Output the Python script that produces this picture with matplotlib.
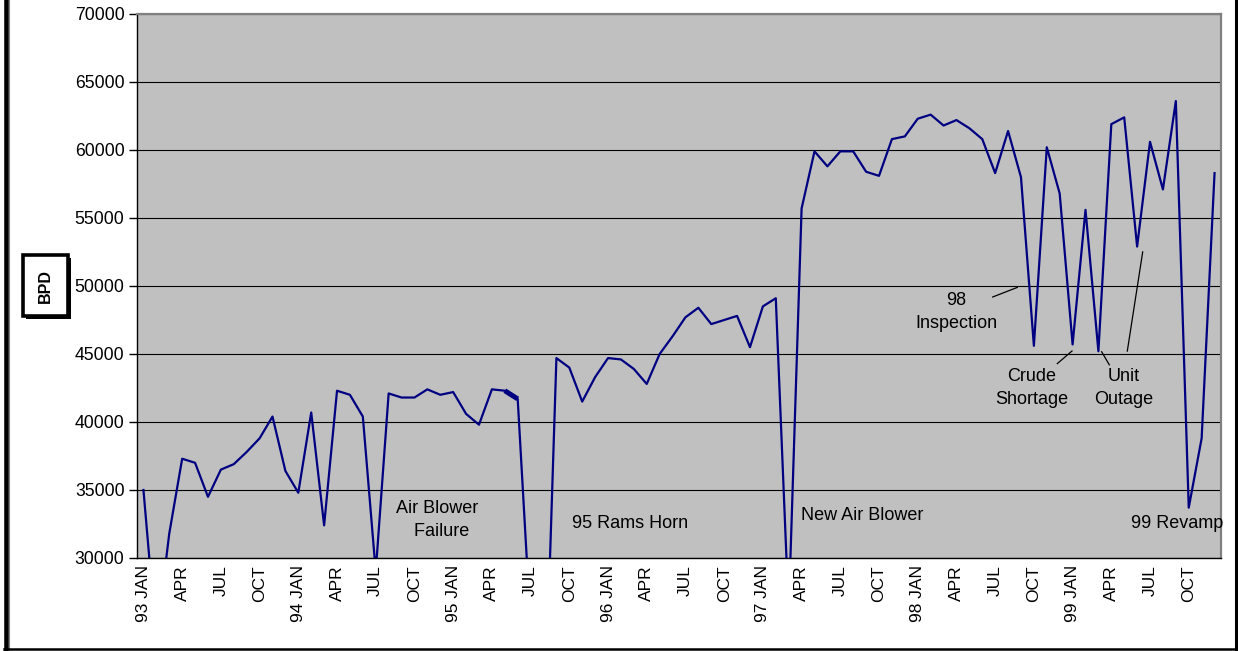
import matplotlib
matplotlib.use("Agg")
import matplotlib.pyplot as plt
from matplotlib.lines import Line2D
from matplotlib.patches import Rectangle

plt.rcParams['font.family'] = ['Liberation Sans', 'DejaVu Sans']

# ---- data -------------------------------------------------------------
bpd = [
    35000, 24000, 31800, 37300, 37000, 34500, 36500, 36900, 37800, 38800, 40400, 36400,  # 1993
    34800, 40700, 32400, 42300, 42000, 40400, 29000, 42100, 41800, 41800, 42400, 42000,  # 1994
    42200, 40600, 39800, 42400, 42300, 41700, 25000, 15000, 44700, 44000, 41500, 43300,  # 1995
    44700, 44600, 43900, 42800, 45000, 46300, 47700, 48400, 47200, 47500, 47800, 45500,  # 1996
    48500, 49100, 26000, 55700, 59900, 58800, 59900, 59900, 58400, 58100, 60800, 61000,  # 1997
    62300, 62600, 61800, 62200, 61600, 60800, 58300, 61400, 58000, 45600, 60200, 56800,  # 1998
    45700, 55600, 45200, 61900, 62400, 52900, 60600, 57100, 63600, 33700, 38800, 58300,  # 1999
]
tick_labels = [
    "93 JAN", "APR", "JUL", "OCT",
    "94 JAN", "APR", "JUL", "OCT",
    "95 JAN", "APR", "JUL", "OCT",
    "96 JAN", "APR", "JUL", "OCT",
    "97 JAN", "APR", "JUL", "OCT",
    "98 JAN", "APR", "JUL", "OCT",
    "99 JAN", "APR", "JUL", "OCT",
]
y_ticks = [30000, 35000, 40000, 45000, 50000, 55000, 60000, 65000, 70000]

W, H = 1238, 651
fig = plt.figure(figsize=(W / 100, H / 100), dpi=100)
fig.patch.set_facecolor("white")

# plot area in pixels
L, R, T, B = 137, 1221, 14, 558
ax = fig.add_axes([L / W, 1 - B / H, (R - L) / W, (B - T) / H])
ax.set_facecolor("#C0C0C0")

x = list(range(len(bpd)))
ax.plot(x, bpd, color="#000080", lw=1.6, zorder=3, clip_on=True)
# thickened segment (May->Jun 1995)
ax.plot(x[28:30], bpd[28:30], color="#000080", lw=3.6, zorder=3, solid_capstyle="butt")

ax.set_xlim(-0.5, len(bpd) - 0.5)
ax.set_ylim(30000, 70000)
ax.set_yticks(y_ticks)
ax.set_yticklabels([str(v) for v in y_ticks], fontsize=12.7)
ax.set_xticks(list(range(0, len(bpd), 3)))
ax.set_xticklabels(tick_labels, rotation=90, fontsize=12.5, va="top", ha="center")
ax.tick_params(axis="x", length=0, pad=5)
ax.tick_params(axis="y", length=6, width=1, pad=3, direction="out")

ax.grid(axis="y", color="black", lw=0.8, zorder=1)
ax.set_axisbelow(True)
for s in ("top", "right"):
    ax.spines[s].set_color("#808080")
    ax.spines[s].set_linewidth(1.6)
for s in ("left", "bottom"):
    ax.spines[s].set_color("black")
    ax.spines[s].set_linewidth(1.0)

# ---- annotations (positions in pixels -> data) -----------------------
step = (R - L) / len(bpd)
def px2x(px):
    return (px - (L + step / 2)) / step
def py2y(py):
    return 30000 + (B - py) * 40000 / (B - T)

fs = 13
def label(txt, cx, cy):
    ax.text(px2x(cx), py2y(cy), txt, fontsize=fs, ha="center", va="center",
            multialignment="center", linespacing=1.4, clip_on=False, zorder=4)

label("Air Blower\n  Failure", 437, 520)
label("95 Rams Horn", 630, 523)
label("New Air Blower", 862, 515)
label("98\nInspection", 956, 312)
label("Crude\nShortage", 1032, 388)
label("Unit\nOutage", 1124, 388)
label("99 Revamp", 1177, 524)

leaders = [
    ((992.7, 297.0), (1017.3, 287.4)),
    ((1057.3, 363.6), (1072.0, 351.0)),
    ((1109.3, 364.8), (1101.7, 351.8)),
    ((1127.3, 351.1), (1142.7, 251.9)),
]
for (x0, y0), (x1, y1) in leaders:
    ax.plot([px2x(x0), px2x(x1)], [py2y(y0), py2y(y1)], color="black", lw=0.9, zorder=4)

# ---- BPD boxed axis title -------------------------------------------
def fx(px):
    return px / W
def fy(py):
    return 1 - py / H

shadow = Rectangle((fx(26), fy(319)), fx(45), 61 / H, transform=fig.transFigure,
                   facecolor="black", edgecolor="black", lw=0)
box = Rectangle((fx(23), fy(316)), fx(45), 61 / H, transform=fig.transFigure,
                facecolor="white", edgecolor="black", lw=2.6)
fig.patches.extend([shadow, box])
fig.text(fx(45), fy(286), "BPD", rotation=90, fontsize=11.5, fontweight="bold",
         ha="center", va="center")

# ---- outer frame (left, right, bottom) ----------------------------
fig.lines.append(Line2D([fx(6.2), fx(6.2)], [0, 1], transform=fig.transFigure, color="black", lw=3.3))
fig.lines.append(Line2D([fx(8.8), fx(8.8)], [0, 1], transform=fig.transFigure, color="#808080", lw=0.8))
fig.lines.append(Line2D([fx(1235.5), fx(1235.5)], [0, 1], transform=fig.transFigure, color="black", lw=2.2))
fig.lines.append(Line2D([fx(4), fx(1237)], [fy(649), fy(649)], transform=fig.transFigure, color="black", lw=1.8))

fig.savefig("out.png", dpi=100, facecolor="white")
